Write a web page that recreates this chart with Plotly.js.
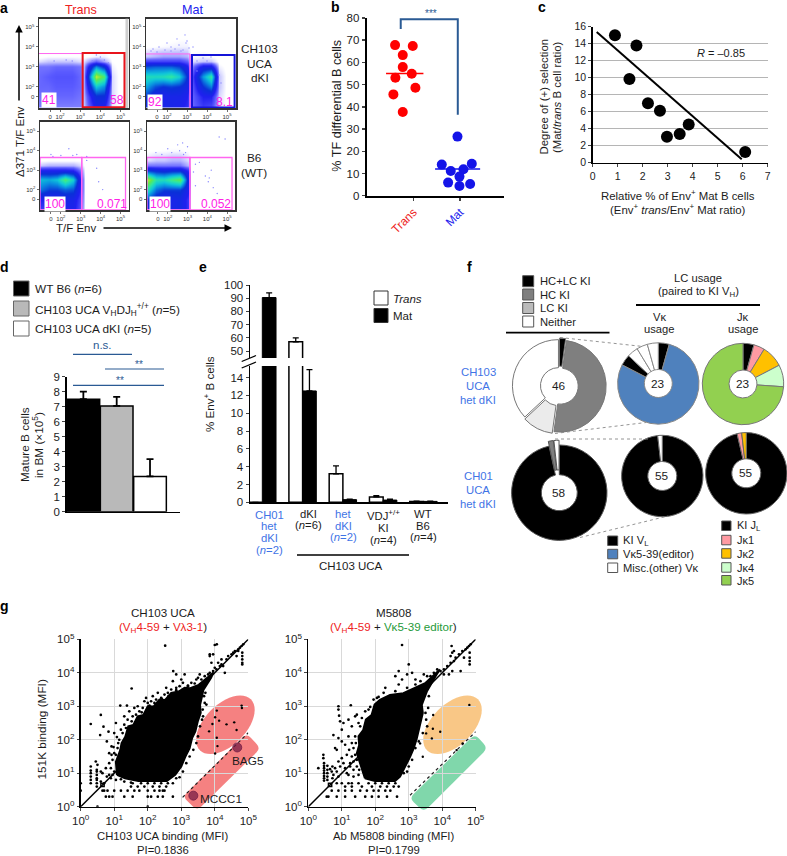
<!DOCTYPE html>
<html><head><meta charset="utf-8">
<script src="https://cdn.plot.ly/plotly-3.0.1.min.js"></script>
<style>html,body{margin:0;padding:0;background:#fff}</style></head>
<body><div id="chart" style="width:787px;height:856px"></div>
<script>
/* ---------- panel a: density grids (x and y in decades of the biexponential axes) ---------- */
const flowX=[1,1.4,1.8,2.2,2.6,3,3.2,3.8,4.2,4.6,5,5.4];
const flowY=[1,1.5,2,2.5,3,3.25,3.5,4,4.5,5.4];
const flowTransDki=[
[.07,.07,.07,.07,.07,.07,.03,.2,.18,.01,0,0],
[.08,.08,.09,.09,.09,.08,.04,.28,.28,.02,0,0],
[.09,.09,.1,.1,.1,.09,.05,.5,.42,.02,0,0],
[.09,.1,.11,.11,.11,.09,.05,.8,.66,.02,0,0],
[.08,.08,.09,.09,.09,.08,.04,.42,.28,.01,0,0],
[.02,.03,.03,.03,.03,.02,.02,.1,.05,.004,0,0],
[0,.005,.005,.005,.005,.005,0,.01,.01,0,0,0],
[0,0,0,0,0,0,0,0,0,0,0,0],[0,0,0,0,0,0,0,0,0,0,0,0],[0,0,0,0,0,0,0,0,0,0,0,0]];
const flowMatDki=[
[.28,.22,.22,.22,.2,.16,.08,.14,.12,.02,0,0],
[.3,.22,.2,.22,.22,.18,.08,.18,.18,.02,0,0],
[.44,.34,.3,.32,.3,.24,.08,.3,.4,.03,0,0],
[.56,.55,.56,.6,.52,.3,.08,.44,.6,.03,0,0],
[.34,.36,.36,.36,.32,.2,.05,.22,.22,.01,0,0],
[.14,.14,.14,.14,.14,.1,.02,.03,.03,0,0,0],
[.03,.04,.05,.05,.05,.04,.005,.01,.005,0,0,0],
[.002,.004,.006,.008,.01,.01,.002,0,0,0,0,0],[0,0,0,0,.002,.002,0,0,0,0,0,0],[0,0,0,0,0,0,0,0,0,0,0,0]];
const flowTransWt=[
[.14,.14,.14,.2,.2,.1,0,0,0,0,0,0],
[.18,.18,.18,.22,.22,.12,0,0,0,0,0,0],
[.38,.32,.32,.36,.34,.14,0,0,0,0,0,0],
[.48,.46,.5,.66,.52,.14,0,0,0,0,0,0],
[.2,.2,.2,.2,.18,.07,0,0,0,0,0,0],
[.03,.04,.04,.04,.04,.02,0,0,0,0,0,0],
[.003,.005,.005,.005,.005,.004,0,0,0,0,0,0],
[0,0,0,0,0,0,0,0,0,0,0,0],[0,0,0,0,0,0,0,0,0,0,0,0],[0,0,0,0,0,0,0,0,0,0,0,0]];
const flowMatWt=[
[.24,.22,.18,.22,.24,.15,0,0,0,0,0,0],
[.32,.24,.2,.22,.24,.15,0,0,0,0,0,0],
[.56,.38,.32,.32,.32,.2,0,0,0,0,0,0],
[.78,.58,.56,.64,.7,.25,0,0,0,0,0,0],
[.32,.28,.26,.28,.28,.16,0,0,0,0,0,0],
[.08,.08,.08,.08,.08,.04,0,0,0,0,0,0],
[.02,.03,.03,.04,.04,.02,0,0,0,0,0,0],
[.002,.004,.005,.006,.006,.003,0,0,0,0,0,0],[0,0,0,0,0,0,0,0,0,0,0,0],[0,0,0,0,0,0,0,0,0,0,0,0]];
const flowDotsTransDki=[[1.7,3.3],[2.3,3.35],[2.6,3.3],[3.8,3.6],[4.2,3.35],[3.6,3.3],[4,3.5],[4.4,3.2]];
const flowDotsMatDki=[[1.3,3.9],[1.6,4],[1.9,3.85],[2.2,4],[2.4,3.9],[2.6,4.1],[2.8,3.85],[3,4.3],[3.1,3.95],[2.5,4.4],[2.9,4.6],[2.95,4.2],[1.2,3.8],[1.5,3.75],[2,4.2],[2.2,3.8],[2.7,3.8],[3.3,4],[4.2,3.5],[3.8,3.45],[4,3.3],[3.5,3.3],[3.5,2.8],[4.6,2.6],[4.7,2.2]];
const flowDotsTransWt=[[1.5,3.8],[2.4,4.1],[2.8,3.8],[3.3,3.7],[3.3,3.5],[3.9,2.4],[3.8,3.1],[2,3.75],[1.6,3.7],[2.6,3.75],[4.1,2]];
const flowDotsMatWt=[[1.4,3.9],[1.7,3.8],[2.2,3.9],[2.6,4],[2.8,3.8],[3,4.2],[2.5,4.3],[2.9,3.9],[2,4.1],[2.75,4.4],[4.6,4.7],[3.9,2.7],[4.1,2.6],[4.2,3],[3.6,3.4],[4.5,1.8],[4.3,2.1],[4.05,2.4],[3.4,3.3],[4.9,4.6],[3.3,2.9],[3.4,2.2]];
const flowTicks=[1.5,2,3,4,5];
const flowTickText=['0','10<sup>2</sup>','10<sup>3</sup>','10<sup>4</sup>','10<sup>5</sup>'];

/* ---------- panel b ---------- */
const bTransX=[.85,1.38,1.08,1.08,1.35,.86,1.46,.8,1.08];
const bTransY=[67.8,67.4,63.3,57.9,54.9,53.1,48.6,45.6,37.7];
const bMatX=[2.72,2.25,3.15,2.9,2.52,2.78,2.44,3.1,2.78];
const bMatY=[26.6,14,14.4,11.9,11.1,8.6,5.9,5.3,4.4];
const bTransMean=55, bMatMean=12;
/* ---------- panel c ---------- */
const cX=[.89,1.75,1.47,2.21,2.69,2.97,3.48,3.84,6.1];
const cY=[15,13.8,9.84,7,6.1,3.06,3.37,4.5,1.25];
const cFitX=[.16,5.96], cFitY=[15.37,.4];
/* ---------- panel d ---------- */
const dValues=[7.5,7.05,2.35];
const dErrors=[.5,.6,1.15];
const dColors=['#000000','#b9b9b9','#ffffff'];
/* ---------- panel e ---------- */
const eTrans=[0,57,3.2,.6,.1];
const eTransErr=[0,3,.9,.15,.03];
const eMat=[90.5,12.5,.3,.25,.1];
const eMatErr=[3.5,2.4,.05,.1,.03];
/* ---------- panel f ---------- */
const fCh103Usage=[1,23,5,17];
const fCh103V=[1,18,1,1,1,1];
const fCh103J=[1,1,2,2,17];
const fCh01Usage=[56,1,1];
const fCh01V=[54,1];
const fCh01J=[53,1,1];
/* ---------- panel g: values in log10(MFI) ---------- */
const gLeftBlob=[[1.08,.95],[1.05,1.34],[1.18,1.69],[1.22,1.9],[1.33,2.09],[1.42,2.4],[1.57,2.44],[1.7,2.7],[1.87,2.74],[2,3],[2.17,2.99],[2.35,3.2],[2.52,3.19],[2.7,3.4],[2.92,3.44],[3.1,3.55],[3.27,3.54],[3.52,3.64],[3.81,3.88],[3.96,4.01],[3.89,3.85],[3.66,3.49],[3.62,3.3],[3.56,3.04],[3.58,2.8],[3.49,2.54],[3.42,2.25],[3.32,2.04],[3.25,1.75],[3.12,1.49],[3,1.2],[2.82,.95],[2.57,.77],[1.72,.77],[1.32,.85],[1.08,.95]];
const gRightBlob=[[1.69,.85],[1.54,1.34],[1.45,1.6],[1.52,1.84],[1.5,2.1],[1.64,2.29],[1.72,2.6],[1.89,2.74],[1.98,3.05],[2.14,3.19],[2.44,3.34],[2.84,3.39],[3.19,3.54],[3.49,3.69],[3.93,4.1],[3.81,3.91],[3.54,3.44],[3.45,3.2],[3.39,3.04],[3.42,2.8],[3.36,2.54],[3.3,2.25],[3.24,2.04],[3.15,1.75],[3.04,1.49],[2.74,.9],[2.59,.77],[1.99,.77],[1.69,.85]];
const gLeftPoints=[[.3,2.47],[.6,2.74],[.68,2.39],[.83,2.24],[.58,2.14],[.78,1.95],[.92,1.8],[1,2.2],[1.05,2.5],[1.18,3.02],[1.3,2.7],[1.38,3.02],[1.52,3.53],[1.2,2.3],[1.3,2.45],[1.4,2.6],[1.45,2.85],[1.55,2.7],[1.6,2.95],[1.7,3],[1.75,2.85],[1.85,2.95],[1.9,3.15],[1.95,3.25],[2,3.1],[2.1,3.15],[2.15,3.3],[2.25,3.2],[2.3,3.4],[2.4,3.25],[2.5,3.35],[2.55,3.55],[2.6,3.4],[2.7,3.5],[2.75,3.75],[2.85,3.55],[2.85,3.95],[2.76,4.05],[2.95,3.6],[3,3.8],[3.05,3.7],[3.1,3.95],[3.2,3.6],[3.3,3.7],
[1.15,2],[1.1,1.75],[1.12,1.9],[1,1.6],[.95,1.4],[1.05,1.55],[.85,1.3],[.75,1.15],[.9,1.15],[1,1.05],[.95,.95],[.65,1],[.78,.9],[.9,.85],[1.05,.8],[1.2,.82],[1.3,.75],[1.5,.72],[.92,1.55],[.85,1.6],[.98,1.78],[1.08,2.08],[1.25,2.2],[1.35,2.35],[1.52,2.55],[1.65,2.75],[1.82,2.82],[2.05,3.02],[2.2,3.1],[2.42,3.22],[2.62,3.3],[2.85,3.48],
[.3,1],[.3,.9],[.3,1.08],[.3,.8],[.3,.7],[.48,.95],[.48,.85],[.48,.8],[.48,.7],[.48,.6],[.48,1.05],[.48,1.1],[.6,1.05],[.6,.75],[.7,.7],[.85,.95],[0,.48],[0,.7],[.5,1.25],[.45,1.35],[.3,1.2],
[3.2,3.62],[3.4,3.68],[3.45,3.8],[3.5,3.85],[3.55,3.95],[3.6,3.8],[3.7,3.9],[3.8,3.95],[3.85,4],[3.95,4.05],[4.05,4.1],[4.15,4.2],[4.2,4.25],[4,4.15],[3.9,4.3],[3.85,4.5],[3.85,4.55],[3.95,4.55],[4,4.83],[4.06,4.85],[4.1,4.3],[4.2,4.4],[4.35,4.4],[4.3,4],[4.25,4.2],[4.4,4.5],[4.5,4.55],[4.55,4.6],[4.6,4.65],[4.7,4.7],[4.75,4.75],[4.8,4.8],[4.82,4.6],[4.82,4.4],[4.82,4.3],[4.82,4.5],[4.82,4.25],[4.65,4.5],[4.7,4.65],[4.85,4.85],[2.52,4.81],
[3.68,3.3],[3.7,3.1],[3.64,2.9],[3.62,2.6],[3.56,2.4],[3.5,2.1],[3.45,1.9],[3.65,2.7],[3.75,3.05],[3.72,3.4],[3.36,1.7],[3.25,1.5],[3.15,1.3],[3.05,1.05],[2.95,.88],[2.85,.85],
[1.55,.7],[1.8,.7],[2,.7],[2.2,.7],[2.4,.7],[2.6,.7],[2.75,.7],[1.5,.6],[1.7,.6],[1.9,.6],[2.15,.6],[2.35,.6],[2.55,.6],[.65,.48],[.7,.48],[.8,.48],[1,.48],[1.2,.48],[1.4,.48],[1.6,.48],[1.75,.48],[2,.48],[2.2,.48],[2.35,.48],[2.45,.48],[2.5,.48],[.75,.3],[.85,.3],[.95,.3],[1.3,.3],[1.55,.3],[2,.3],[2.1,.3],[2.3,.3],[2.45,.3],[2.75,.3],[.5,0],[2,0]];
const gLeftHits=[[4.06,2.87],[4.01,2.67],[4.13,2.57],[3.93,2.47],[3.83,2.25],[4.06,2.06],[4.08,1.81],[4.01,1.59],[4.35,2.46],[4.58,2.52],[4.65,2.29],[4.8,3.02],[4.81,2.95]];
const gRightPoints=[[.75,2.14],[.9,3],[.9,2.9],[1.27,3.03],[.92,2.72],[.95,2.55],[1,2.3],[1.05,2.5],[1.2,2.6],[1.4,2.7],[1.45,2.75],[.8,1.75],[.85,1.7],[.9,2.05],[1,1.95],[1.1,1.85],[1.2,2.1],[1.3,2.4],[1.5,2.5],[1.6,2.65],[1.55,2.4],[1.7,2.85],[1.8,2.9],[1.3,1.9],[1.4,2.1],[1.35,1.75],[1.4,1.55],[1.45,1.4],[1.45,1.2],[1.52,1.1],[1.35,1.35],[1.3,1.5],[1.25,1.3],[1.42,1.9],
[.45,1.55],[.45,1.45],[.3,1.15],[.47,1.3],[.47,1.22],[.47,1.15],[.47,1.08],[.47,1],[.47,.92],[.47,.85],[.47,.78],[.57,1.22],[.57,1.1],[.57,1],[.57,.9],[.57,.8],[.65,1.12],[.7,1.05],[.75,.95],[.85,1.05],[.95,1.2],[.9,.9],[1.05,1.3],[1.15,1],[1.25,1.2],[1.35,1.1],[1.15,1.55],[1.22,1.7],[.72,1.2],[.8,1.15],[.9,1.35],[1,1.45],[1.1,1.15],[1.2,.95],[1.35,.9],[1.5,.95],[.72,.85],
[1.85,2.98],[1.95,3.2],[2.05,3.25],[2.1,3.28],[2.25,3.4],[2.3,3.55],[2.6,3.45],[2.6,3.9],[2.7,3.65],[2.8,4.83],[3,4.25],[3.1,4],[2.7,4.05],[2.8,3.8],[2.95,3.95],[2.95,3.55],[3.2,3.8],[3.2,3.65],[3.35,3.75],[3.45,3.95],[3.55,3.9],[3.65,3.9],[3.75,4],[3.85,4.1],[3.95,4.05],[4.05,4.1],[4.15,4.2],[4.25,4.3],[4.35,4.35],[4.2,3.95],[4.3,4.05],[4.05,3.95],[4.25,4.5],[4.3,4.6],[4.28,4.8],[4.35,4.65],[4.4,4.45],[4.5,4.55],[4.6,4.65],[4.7,4.7],[4.75,4.75],[4.8,4.8],[4.85,4.85],[4.82,4.6],[4.82,4.45],[4.82,4.35],[4.82,4.25],[4.65,4.45],[4.55,4.05],
[3.6,3.3],[3.58,2.95],[3.52,2.6],[3.55,2.4],[3.5,2.8],[3.42,2.2],[3.3,1.95],[3.2,1.75],[3.1,1.4],[3,1.2],[2.95,1.05],[2.85,1],
[1.8,.7],[2,.7],[2.2,.7],[2.4,.7],[2.6,.7],[1.5,.7],[1.3,.7],[1.2,.7],[1,.7],[.85,.7],[1.6,.6],[1.9,.6],[2.15,.6],[2.35,.6],[2.55,.6],[2.7,.6],[1.3,.6],[1.1,.6],[.7,.48],[.9,.48],[1.1,.48],[1.3,.48],[1.55,.48],[1.75,.48],[1.95,.48],[2.1,.48],[2.3,.48],[2.45,.48],[.55,.3],[.6,.3],[.85,.3],[1.1,.3],[1.4,.3],[1.7,.3],[1.9,.3],[2.1,.3],[2.35,.3],[2.65,.3]];
const gRightHits=[[4.81,3.04],[3.73,2.74],[3.72,2.33],[3.94,2.24],[3.69,2.04],[3.52,2.19],[3.34,1.89],[3.42,1.49],[4.61,1.89],[4.43,1.69]];
const gBag5=[4.67,1.77], gMccc1=[3.36,.33];

/* ---------- helpers ---------- */
const W=787,H=856;
const font='"Liberation Sans",Arial,sans-serif', ink='#1c1c1c', sigBlue='#2a5a94', labelBlue='#3f74e6';
const px=x=>x/W, py=y=>1-y/H;
const annotations=[],shapes=[],traces=[];
const layout={width:W,height:H,margin:{l:0,r:0,t:0,b:0},paper_bgcolor:'#fff',plot_bgcolor:'rgba(0,0,0,0)',
  showlegend:false,autosize:false,font:{family:font,size:11,color:ink},bargap:.32,bargroupgap:0,barmode:'group',
  annotations,shapes,hovermode:false};
function T(x,y,text,o={}){annotations.push(Object.assign({xref:'paper',yref:'paper',x:px(x),y:py(y),text,showarrow:false,
  xanchor:'center',yanchor:'middle',borderpad:0,font:{family:font,size:o.size||11,color:o.color||ink}},
  o.angle!==undefined?{textangle:o.angle}:{},o.bg?{bgcolor:o.bg}:{},o.anchor?{xanchor:o.anchor}:{}));}
function L(x0,y0,x1,y1,color,width,dash){shapes.push({type:'line',xref:'paper',yref:'paper',x0:px(x0),y0:py(y0),x1:px(x1),y1:py(y1),line:{color,width:width||1,dash:dash||'solid'},layer:'above'});}
function R(x0,y0,x1,y1,fill,line){shapes.push({type:'rect',xref:'paper',yref:'paper',x0:px(x0),y0:py(y0),x1:px(x1),y1:py(y1),fillcolor:fill,line:{color:line||'#555',width:1},layer:'above'});}
function ref(i){return i===1?['x','y']:['x'+i,'y'+i];}
function plot(i,l,t,r,b,xo,yo){
  const [xr,yr]=ref(i);
  layout[i===1?'xaxis':'xaxis'+i]=Object.assign({domain:[px(l),px(r)],anchor:yr,fixedrange:true,showgrid:false,zeroline:false},xo);
  layout[i===1?'yaxis':'yaxis'+i]=Object.assign({domain:[py(b),py(t)],anchor:xr,fixedrange:true,showgrid:false,zeroline:false},yo);
  return {xaxis:xr,yaxis:yr};
}
function D(i,type,o){const [xr,yr]=ref(i);shapes.push(Object.assign({type,xref:xr,yref:yr,layer:'above'},o));}

/* ---------- panel a ---------- */
const flowScale=[[0,'#ffffff'],[.004,'#ffffff'],[.03,'#c4c4ff'],[.07,'#8080ff'],[.1,'#5a5aff'],[.18,'#2020f0'],[.3,'#0a30d8'],[.42,'#0a90e0'],[.5,'#10c8d8'],[.6,'#30e8a0'],[.7,'#60e850'],[.85,'#f0f020'],[1,'#f04010']];
function flow(i,l,t,r,b,z,dots,xrange,yrange){
  const tick={tickmode:'array',tickvals:flowTicks,ticktext:flowTickText,ticks:'outside',ticklen:2,tickwidth:.7,tickcolor:'#333',tickfont:{size:6,color:'#333'},showline:true,linecolor:'#333',linewidth:1.5,mirror:true};
  const a=plot(i,l,t,r,b,Object.assign({range:xrange},tick),Object.assign({range:yrange},tick));
  traces.push(Object.assign({type:'heatmap',x:flowX,y:flowY,z,zmin:0,zmax:1,zsmooth:'best',colorscale:flowScale,showscale:false,hoverinfo:'skip'},a));
  traces.push(Object.assign({type:'scatter',mode:'markers',x:dots.map(p=>p[0]),y:dots.map(p=>p[1]),marker:{size:1.4,color:'#8a8aff'}},a));
}
flow(1,39,18.5,128.5,108,flowTransDki,flowDotsTransDki,[.95,5.4],[.95,5.42]);
flow(2,146,18.5,236,108,flowMatDki,flowDotsMatDki,[.95,5.45],[.95,5.42]);
flow(3,40,121.5,128.5,210,flowTransWt,flowDotsTransWt,[.95,5.4],[.95,5.5]);
flow(4,147,121.5,235,210,flowMatWt,flowDotsMatWt,[.95,5.4],[.95,5.5]);
const mag='#ff66f0';
D(1,'rect',{x0:5.25,x1:5.4,y0:.95,y1:5.42,fillcolor:'#cfcfcf',line:{width:0}});
D(1,'line',{x0:.95,x1:3.12,y0:3.67,y1:3.67,line:{color:mag,width:1}});
D(1,'rect',{x0:3.12,x1:5.2,y0:.99,y1:3.7,line:{color:'#e8141c',width:2}});
D(2,'line',{x0:.95,x1:3.15,y0:3.65,y1:3.65,line:{color:mag,width:1}});
D(2,'line',{x0:3.15,x1:3.15,y0:.95,y1:3.65,line:{color:mag,width:1.5}});
D(2,'rect',{x0:3.25,x1:5.38,y0:.97,y1:3.6,line:{color:'#1414d8',width:2}});
D(3,'rect',{x0:.95,x1:3.05,y0:.95,y1:3.65,line:{color:mag,width:1.3}});
D(3,'rect',{x0:3.05,x1:5.25,y0:.95,y1:3.65,line:{color:mag,width:1.3}});
D(4,'rect',{x0:.95,x1:3.12,y0:.95,y1:3.65,line:{color:mag,width:1.3}});
D(4,'rect',{x0:3.12,x1:5.25,y0:.95,y1:3.65,line:{color:mag,width:1.3}});
T(81,10,'Trans',{size:12.6,color:'#ee2222'});
T(192,10,'Mat',{size:12.6,color:'#2222ee'});
const pctColor='#ff22e6';
T(49.3,100,'41',{size:12,color:pctColor,bg:'#fff'});
T(116.7,100,'58',{size:12,color:pctColor});
T(155,101.5,'92',{size:12,color:pctColor,bg:'#fff'});
T(225,101.5,'8.1',{size:12,color:pctColor});
T(55,204,'100',{size:12,color:pctColor,bg:'#fff'});
T(111.7,204,'0.071',{size:12,color:pctColor});
T(160,204,'100',{size:12,color:pctColor,bg:'#fff'});
T(216,204,'0.052',{size:12,color:pctColor});
T(259.5,49.5,'CH103',{size:11.8});T(259.5,63.5,'UCA',{size:11.8});T(259.5,77.5,'dKI',{size:11.8});
T(254,158,'B6',{size:11.8});T(254,173,'(WT)',{size:11.8});
T(20,142,'Δ371 T/F Env',{size:11.5,angle:-90});
T(76.5,228,'T/F Env',{size:11.5});
annotations.push({xref:'paper',yref:'paper',x:px(19),y:py(25),ax:0,ay:77,text:'',showarrow:true,arrowhead:2,arrowsize:1,arrowwidth:1.5,arrowcolor:'#000'});
annotations.push({xref:'paper',yref:'paper',x:px(232),y:py(228),ax:-130,ay:0,text:'',showarrow:true,arrowhead:2,arrowsize:1,arrowwidth:1.5,arrowcolor:'#000'});

/* ---------- panel b ---------- */
const bAx=plot(5,366.7,18,503.5,195.7,
 {range:[0,4.1],tickmode:'array',tickvals:[1.4,2.8],ticktext:['<span style="color:#ee2222">Trans</span>','<span style="color:#2222ee">Mat</span>'],tickangle:-45,tickfont:{size:11.8},ticks:'outside',ticklen:3,tickwidth:1.5,showline:true,linecolor:'#000',linewidth:2},
 {range:[0,80],tickvals:[0,10,20,30,40,50,60,70,80],ticks:'outside',ticklen:3,tickwidth:1.5,showline:true,linecolor:'#000',linewidth:2,tickfont:{size:11.5}});
traces.push(Object.assign({type:'scatter',mode:'markers',x:bTransX,y:bTransY,marker:{color:'#ff0000',size:10},cliponaxis:false},bAx));
traces.push(Object.assign({type:'scatter',mode:'markers',x:bMatX,y:bMatY,marker:{color:'#1414e8',size:10},cliponaxis:false},bAx));
traces.push(Object.assign({type:'scatter',mode:'lines',x:[.58,1.7],y:[bTransMean,bTransMean],line:{color:'#ff0000',width:1.5}},bAx));
traces.push(Object.assign({type:'scatter',mode:'lines',x:[2.05,3.4],y:[bMatMean,bMatMean],line:{color:'#1414e8',width:1.5}},bAx));
traces.push(Object.assign({type:'scatter',mode:'lines',x:[1.02,1.02,2.73,2.73],y:[75,79.4,79.4,36.4],line:{color:sigBlue,width:2},cliponaxis:false},bAx));
T(431,14,'***',{size:10,color:sigBlue});
T(336.7,106,'% TF differential B cells',{size:12.6,angle:-90});

/* ---------- panel c ---------- */
const cAx=plot(6,592.7,26.7,767.7,162.7,
 {range:[0,7],tickvals:[0,1,2,3,4,5,6,7],ticks:'outside',ticklen:3,tickwidth:1,showline:true,linecolor:'#000',linewidth:1.5,tickfont:{size:10.5}},
 {range:[0,16],tickvals:[0,2,4,6,8,10,12,14,16],ticks:'outside',ticklen:3,tickwidth:1,showline:true,linecolor:'#000',linewidth:1.5,showgrid:true,gridcolor:'#b5b5b5',gridwidth:1,tickfont:{size:10.5}});
traces.push(Object.assign({type:'scatter',mode:'lines',x:cFitX,y:cFitY,line:{color:'#000',width:2}},cAx));
traces.push(Object.assign({type:'scatter',mode:'markers',x:cX,y:cY,marker:{color:'#000',size:12},cliponaxis:false},cAx));
T(721,52.5,'<i>R</i> = –0.85',{size:11});
T(678,195,'Relative % of Env<sup>+</sup> Mat B cells',{size:11.4});
T(678,209,'(Env<sup>+</sup> <i>trans</i>/Env<sup>+</sup> Mat ratio)',{size:11.4});
T(543.5,97,'Degree of (+) selection',{size:11.4,angle:-90});
T(557,97,'(Mat/<i>trans</i> B cell ratio)',{size:11.4,angle:-90});

/* ---------- panel d ---------- */
const dAx=plot(7,66.7,376.7,180,511.7,
 {range:[-.5,2.9],showticklabels:false,ticks:'',showline:true,linecolor:'#000',linewidth:1.5},
 {range:[0,9],tickvals:[0,1,2,3,4,5,6,7,8,9],ticks:'outside',ticklen:3,tickwidth:1.5,showline:true,linecolor:'#000',linewidth:1.5,tickfont:{size:11.5}});
traces.push(Object.assign({type:'bar',x:[0,1,2],y:dValues,width:[.98,.98,.98],marker:{color:dColors,line:{color:'#000',width:1.5}},error_y:{type:'data',symmetric:false,array:dErrors,arrayminus:[0,0,0],color:'#000',thickness:1.8,width:3.5}},dAx));
R(13.5,281,29,296,'#000000','#666');R(13.5,301,29,316,'#b9b9b9','#666');R(13.5,321,29,336,'#ffffff','#666');
T(34,288.5,'WT B6 (<i>n</i>=6)',{size:11.8,anchor:'left'});
T(34,310,'CH103 UCA V<sub>H</sub>DJ<sub>H</sub><sup>+/+</sup> (<i>n</i>=5)',{size:11.8,anchor:'left'});
T(34,328.5,'CH103 UCA dKI (<i>n</i>=5)',{size:11.8,anchor:'left'});
L(73,354.3,132,354.3,sigBlue,1.2);L(105,369,164,369,sigBlue,1.2);L(73,385.3,164,385.3,sigBlue,1.2);
T(102,345,'n.s.',{size:11.5,color:sigBlue});T(139,364,'**',{size:10,color:sigBlue});T(120,380,'**',{size:10,color:sigBlue});
T(25,445,'Mature B cells',{size:11.8,angle:-90});
T(39,445,'in BM (×10<sup>5</sup>)',{size:11.8,angle:-90});

/* ---------- panel e (broken axis) ---------- */
const eGroups=[0,1,2,3,4];
const eAxisLower=plot(8,250,366,448,502.3,
 {range:[-.306,4.61],showticklabels:false,ticks:'',showline:true,linecolor:'#000',linewidth:1.5},
 {range:[0,15.3],tickvals:[0,2,4,6,8,10,12,14],ticks:'outside',ticklen:3,tickwidth:1,showline:true,linecolor:'#000',linewidth:1.5,tickfont:{size:11.5}});
const eAxisUpper=plot(9,250,285,448,358,
 {range:[-.306,4.61],visible:false},
 {range:[44.7,100],tickvals:[50,60,70,80,90,100],ticks:'outside',ticklen:3,tickwidth:1,showline:true,linecolor:'#000',linewidth:1.5,tickfont:{size:11.5}});
[eAxisLower,eAxisUpper].forEach(a=>{
 traces.push(Object.assign({type:'bar',x:eGroups,y:eTrans,marker:{color:'#fff',line:{color:'#000',width:1.5}},error_y:{type:'data',symmetric:false,array:eTransErr,arrayminus:[0,0,0,0,0],color:'#000',thickness:1.3,width:3}},a));
 traces.push(Object.assign({type:'bar',x:eGroups,y:eMat,marker:{color:'#000',line:{color:'#000',width:1}},error_y:{type:'data',symmetric:false,array:eMatErr,arrayminus:[0,0,0,0,0],color:'#000',thickness:1.3,width:3}},a));
});
L(241.7,361.5,256,355.5,'#000',1.2);L(241.7,368,256,362,'#000',1.2);
T(209,394,'% Env<sup>+</sup> B cells',{size:11.6,angle:-90});
R(374,291,388,305,'#ffffff','#333');R(374,308.5,388,322.5,'#000000','#333');
T(392,298.5,'<i>Trans</i>',{size:11.5,anchor:'left'});T(392,316,'Mat',{size:11.5,anchor:'left'});
[[269,'CH01',514.5],[269,'het',526],[269,'dKI',538],[269,'(<i>n</i>=2)',549.5]].forEach(a=>T(a[0],a[2],a[1],{color:labelBlue,size:11.3}));
T(308,513.5,'dKI',{size:11.3});T(308,525,'(<i>n</i>=6)',{size:11.3});
[['het',514],['dKI',525.5],['(<i>n</i>=2)',537]].forEach(a=>T(343,a[1],a[0],{color:labelBlue,size:11.3}));
T(383,515,'VDJ<sup>+/+</sup>',{size:11.3});T(383,528,'KI',{size:11.3});T(383,540,'(<i>n</i>=4)',{size:11.3});
T(423,514,'WT',{size:11.3});T(423,525.5,'B6',{size:11.3});T(423,537,'(<i>n</i>=4)',{size:11.3});
L(297,555,409,555,'#000',1.5);
T(351,566,'CH103 UCA',{size:11.5});

/* ---------- panel f ---------- */
function pie(cx,cy,r,hole,values,labels,colors,lineColor,pull,txt){
  const m=Math.max(...pull);const half=r*(1+m);
  traces.push({type:'pie',values,labels,sort:false,direction:'clockwise',rotation:0,hole:hole/r,textinfo:'none',hoverinfo:'skip',pull,
    marker:{colors,line:{color:lineColor,width:1}},domain:{x:[px(cx-half),px(cx+half)],y:[py(cy+half),py(cy-half)]}});
  T(cx,cy,txt,{size:11.8});
}
pie(559.3,386,46,18,fCh103Usage,['HC+LC KI','HC KI','LC KI','Neither'],['#000000','#7f7f7f','#ebebeb','#ffffff'],'#777',[.04,.02,.04,.02],'46');
pie(658.3,383.5,40.7,14,fCh103V,['KI VL','Vκ5-39(editor)','Other black','Misc 1','Misc 2','Misc 3'],['#000000','#4f81bd','#000000','#ffffff','#ffffff','#ffffff'],'#888',[0,0,0,0,0,0],'23');
pie(743,384,40.7,14,fCh103J,['KI JL','Jκ1','Jκ2','Jκ4','Jκ5'],['#000000','#ff9aa2','#ffc000','#ccffcc','#92d050'],'#777',[0,0,0,0,0],'23');
pie(559.3,492.7,47.7,18,fCh01Usage,['HC+LC KI','HC KI','Neither'],['#000000','#7f7f7f','#ffffff'],'#555',[0,.1,.1],'58');
pie(662.3,476,40.7,14.5,fCh01V,['KI VL','Misc'],['#000000','#ffffff'],'#666',[0,0],'55');
pie(746.3,473.3,40.7,14.5,fCh01J,['KI JL','Jκ1','Jκ2'],['#000000','#ff9aa2','#ffc000'],'#666',[0,0,0],'55');
[[522.7,275.7,'#000000','HC+LC KI'],[522.7,289,'#7f7f7f','HC KI'],[522.7,302.5,'#bbbbbb','LC KI'],[522.7,316,'#ffffff','Neither']].forEach(a=>{
  R(a[0],a[1],a[0]+11,a[1]+11,a[2],'#555');T(539.3,a[1]+5.5,a[3],{size:11.2,anchor:'left'});});
L(506,332.7,609.5,332.7,'#000',1.8);
T(698,278,'LC usage',{size:11.2});T(698,292,'(paired to KI V<sub>H</sub>)',{size:11.2});
L(636,305,760,305,'#000',1.8);
T(659,317,'Vκ',{size:11.2});T(659,329,'usage',{size:11.2});
T(743,317,'Jκ',{size:11.2});T(743,329,'usage',{size:11.2});
T(478,372,'CH103',{size:11.3,color:labelBlue});T(478,386,'UCA',{size:11.3,color:labelBlue});T(478,399.5,'het dKI',{size:11.3,color:labelBlue});
T(478,476,'CH01',{size:11.3,color:labelBlue});T(478,490,'UCA',{size:11.3,color:labelBlue});T(478,504,'het dKI',{size:11.3,color:labelBlue});
const dots=['#888888',.9,'dot'];
L(560,337.5,643,346.5,...dots);L(555,433.5,646,422.5,...dots);L(555,439,648,439,...dots);L(580,537.5,668,516,...dots);
[[607.7,536,'#000000','KI V<sub>L</sub>',540.5],[607.7,549.3,'#4f81bd','Vκ5-39(editor)',554],[607.7,563,'#ffffff','Misc.(other) Vκ',568]].forEach(a=>{
  R(a[0],a[1],a[0]+10,a[1]+9.5,a[2],'#555');T(622.3,a[4],a[3],{size:11.2,anchor:'left'});});
[[521,'#000000','KI J<sub>L</sub>'],[535.3,'#ff9aa2','Jκ1'],[548.7,'#ffc000','Jκ2'],[562.7,'#ccffcc','Jκ4'],[575.5,'#92d050','Jκ5']].forEach(a=>{
  R(721.7,a[0],731,a[0]+9.5,a[1],'#555');T(736,a[0]+5,a[2],{size:11,anchor:'left'});});

/* ---------- panel g ---------- */
const pow=v=>v.map(p=>[Math.pow(10,p[0]),Math.pow(10,p[1])]);
const gTicks=[1,10,100,1000,10000,100000];
const gTickText=['10<sup>0</sup>','10<sup>1</sup>','10<sup>2</sup>','10<sup>3</sup>','10<sup>4</sup>','10<sup>5</sup>'];
function scatterPanel(i,l,r,blob,points,hits,dashX,dashY){
  const base={type:'log',range:[0,5],tickmode:'array',tickvals:gTicks,ticktext:gTickText,ticks:'outside',ticklen:2.5,tickwidth:1,showgrid:true,gridcolor:'#d9d9d9',gridwidth:1,showline:true,linecolor:'#000',linewidth:1.5,tickfont:{size:11.5}};
  const a=plot(i,l,639.3,r,806.7,base,base);
  const b=pow(blob),p=pow(points),h=pow(hits);
  traces.push(Object.assign({type:'scatter',mode:'lines',x:[1,100000],y:[1,100000],line:{color:'#000',width:1.5}},a));
  traces.push(Object.assign({type:'scatter',mode:'lines',x:dashX,y:dashY,line:{color:'#222',width:1.2,dash:'dot'}},a));
  traces.push(Object.assign({type:'scatter',mode:'lines',fill:'toself',fillcolor:'#000',x:b.map(q=>q[0]),y:b.map(q=>q[1]),line:{color:'#000',width:2}},a));
  traces.push(Object.assign({type:'scatter',mode:'markers',x:p.map(q=>q[0]),y:p.map(q=>q[1]),marker:{color:'#000',size:2.7},cliponaxis:true},a));
  traces.push(Object.assign({type:'scatter',mode:'markers',x:h.map(q=>q[0]),y:h.map(q=>q[1]),marker:{color:'#000',size:2.4}},a));
  shapes.push({type:'rect',xref:ref(i)[0],yref:ref(i)[1],x0:4,x1:5,y0:4,y1:5,line:{color:'#000',width:1.5},layer:'above'});
  return a;
}
const ellipse=(cx,cy,ra,rb,fill)=>{let d='';for(let k=0;k<=48;k++){const t=k/48*2*Math.PI,c=Math.SQRT1_2;
  const ex=ra*Math.cos(t),ey=rb*Math.sin(t);const x=cx+ex*c+ey*c,y=cy-ex*c+ey*c;d+=(k?'L':'M')+px(x)+','+py(y);}
  shapes.push({type:'path',xref:'paper',yref:'paper',path:d+'Z',fillcolor:fill,line:{width:0},layer:'below'});};
const rounded=(pts,rad,fill)=>{let d='';pts.forEach((p,i)=>{const a=pts[(i+3)%4],b=pts[(i+1)%4];
  const da=Math.hypot(a[0]-p[0],a[1]-p[1]),db=Math.hypot(b[0]-p[0],b[1]-p[1]);
  const s=[p[0]+(a[0]-p[0])*rad/da,p[1]+(a[1]-p[1])*rad/da],e=[p[0]+(b[0]-p[0])*rad/db,p[1]+(b[1]-p[1])*rad/db];
  d+=(i?'L':'M')+px(s[0])+','+py(s[1])+'Q'+px(p[0])+','+py(p[1])+' '+px(e[0])+','+py(e[1]);});
  shapes.push({type:'path',xref:'paper',yref:'paper',path:d+'Z',fillcolor:fill,line:{width:0},layer:'below'});};
ellipse(225.4,724.8,36,20.5,'rgba(240,70,70,.68)');
rounded([[182.7,796.7],[246.7,733.3],[260.7,748.3],[197.3,810.5]],6,'rgba(240,70,70,.68)');
ellipse(452.5,724.8,36,20.5,'rgba(245,165,60,.62)');
rounded([[409.3,798.3],[475,734],[487.7,748.3],[424,811.7]],6,'rgba(50,190,120,.62)');
const gA=scatterPanel(10,80.7,248.3,gLeftBlob,gLeftPoints,gLeftHits,[1096,100000],[1.9,162]);
scatterPanel(11,308.3,475.7,gRightBlob,gRightPoints,gRightHits,[1096,100000],[2.2,174]);
traces.push(Object.assign({type:'scatter',mode:'markers',x:[Math.pow(10,gBag5[0]),Math.pow(10,gMccc1[0])],y:[Math.pow(10,gBag5[1]),Math.pow(10,gMccc1[1])],
  marker:{color:'rgba(120,30,70,.75)',size:9,line:{color:'rgba(120,30,70,.85)',width:1}}},gA));
T(247.5,761,'BAG5',{size:11.8});T(221,799,'MCCC1',{size:11.8});
T(162.5,612.5,'CH103 UCA',{size:11.6});
T(162.5,627,'<span style="color:#ee2222">(V<sub>H</sub>4-59</span> + <span style="color:#ee2222">Vλ3-1</span>)',{size:11.6});
T(393.5,612.5,'M5808',{size:11.6});
T(393.5,627,'<span style="color:#ee2222">(V<sub>H</sub>4-59</span> + <span style="color:#1f9a3a">Vκ5-39 editor</span>)',{size:11.6});
T(162.5,836.2,'CH103 UCA binding (MFI)',{size:11.3});T(162.5,849.6,'PI=0.1836',{size:11.3});
T(393.5,836.2,'Ab M5808 binding (MFI)',{size:11.3});T(393.5,849.6,'PI=0.1799',{size:11.3});
T(41.5,730,'151K binding (MFI)',{size:11.8,angle:-90});

/* ---------- panel letters ---------- */
[['a',4,8],['b',335,7],['c',542,7],['d',4,267],['e',203,267],['f',470,267],['g',4,606]].forEach(a=>T(a[1],a[2],'<b>'+a[0]+'</b>',{size:14,color:'#000'}));

Plotly.newPlot('chart',traces,layout,{displayModeBar:false,staticPlot:true});
</script></body></html>
